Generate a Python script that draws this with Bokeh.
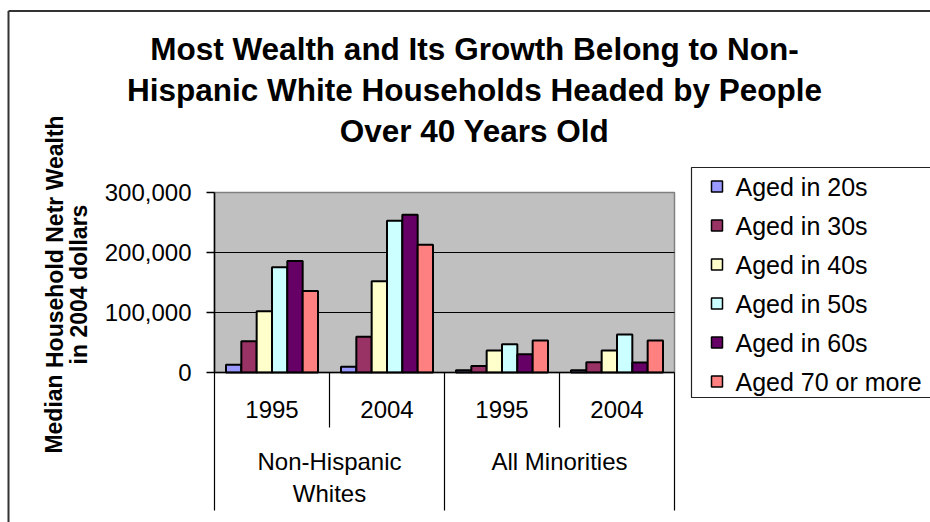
from bokeh.plotting import figure
from bokeh.models import Range1d
from bokeh.core.properties import value
from bokeh.embed import file_html
from bokeh.resources import INLINE

# ---------------- data ----------------
title_lines = ["Most Wealth and Its Growth Belong to Non-",
               "Hispanic White Households Headed by People",
               "Over 40 Years Old"]
y_title_lines = ["Median Household Netr Wealth", "in 2004 dollars"]
years = ["1995", "2004", "1995", "2004"]
groups = ["Non-Hispanic\nWhites", "All Minorities"]
series_names = ["Aged in 20s", "Aged in 30s", "Aged in 40s",
                "Aged in 50s", "Aged in 60s", "Aged 70 or more"]
aged_20s = [13000, 9500, 3800, 3800]
aged_30s = [52000, 59500, 11000, 17000]
aged_40s = [102000, 152000, 36500, 36500]
aged_50s = [175500, 253000, 47000, 63500]
aged_60s = [186000, 263000, 30500, 16500]
aged_70plus = [136000, 213000, 53500, 53500]
y_ticks = [0, 100000, 200000, 300000]

series_values = [aged_20s, aged_30s, aged_40s, aged_50s, aged_60s, aged_70plus]
colors = ["#9999FF", "#993366", "#FFFFCC", "#CCFFFF", "#660066", "#FF8080"]

# ---------------- layout (pixels) ----------------
W, H = 930, 522
PX_LEFT, PX_RIGHT = 214, 674      # plot area
PX_ZERO, PX_TOP = 372, 192
N = len(years)
UNIT = (PX_RIGHT - PX_LEFT) / N    # px per category
YMAX = y_ticks[-1]
K = YMAX / (PX_ZERO - PX_TOP)      # value per px

def xd(px):
    return (px - PX_LEFT) / UNIT

def yd(py):
    return (PX_ZERO - py) * K

FONT = value("Liberation Sans")

p = figure(width=W, height=H, output_backend="svg", toolbar_location=None,
           x_range=Range1d(xd(0), xd(W)), y_range=Range1d(yd(H), yd(0)),
           x_axis_location=None, y_axis_location=None, min_border=0,
           outline_line_color=None, background_fill_color="white",
           border_fill_color="white")
p.grid.visible = False

# outer chart border
p.segment(x0=[xd(8), xd(8)], y0=[yd(10.5), yd(10.5)], x1=[xd(8), xd(950)],
          y1=[yd(540), yd(10.5)], line_color="#333333", line_width=2)

# plot area
p.quad(left=[0], right=[N], bottom=[0], top=[YMAX], fill_color="#C0C0C0",
       line_color="#808080", line_width=1.5)
grid_y = y_ticks[1:-1]
p.segment(x0=[0] * len(grid_y), x1=[N] * len(grid_y), y0=grid_y, y1=grid_y,
          line_color="black", line_width=1.2)

# bars
gap = 1.5
bw = 1.0 / (len(series_values) + gap)
for k, (vals, col, name) in enumerate(zip(series_values, colors, series_names)):
    off = (k - (len(series_values) - 1) / 2) * bw
    xs = [i + 0.5 + off for i in range(N)]
    p.vbar(x=xs, top=vals, bottom=0, width=bw, fill_color=col,
           line_color="black", line_width=2)

# axes lines
p.segment(x0=[0], x1=[0], y0=[0], y1=[YMAX], line_color="black", line_width=1.5)
p.segment(x0=[0], x1=[N], y0=[0], y1=[0], line_color="black", line_width=1.5)
# y ticks
p.segment(x0=[xd(206)] * len(y_ticks), x1=[0] * len(y_ticks), y0=y_ticks, y1=y_ticks,
          line_color="black", line_width=1.5)
p.text(x=[xd(191)] * len(y_ticks), y=y_ticks, text=[f"{t:,}" for t in y_ticks],
       text_align="right", text_baseline="middle", text_font=FONT,
       text_font_size="24px", text_color="black")

# category separators
short_x = [i for i in range(1, N) if i % 2 == 1]
long_x = [i for i in range(0, N + 1, 2)]
p.segment(x0=short_x, x1=short_x, y0=[0] * len(short_x), y1=[yd(427)] * len(short_x),
          line_color="black", line_width=1.2)
p.segment(x0=long_x, x1=long_x, y0=[0] * len(long_x), y1=[yd(510)] * len(long_x),
          line_color="black", line_width=1.2)

# category labels
p.text(x=[i + 0.5 for i in range(N)], y=[yd(409)] * N, text=years,
       text_align="center", text_baseline="middle", text_font=FONT,
       text_font_size="24px", text_color="black")
gx, gy, gt = [], [], []
for g, name in enumerate(groups):
    for j, line in enumerate(name.split("\n")):
        gx.append(2 * g + 1)
        gy.append(yd(460.5 + 32 * j))
        gt.append(line)
p.text(x=gx, y=gy, text=gt, text_align="center", text_baseline="middle",
       text_font=FONT, text_font_size="24px", text_color="black")

# title
p.text(x=[xd(474)] * 3, y=[yd(48.5), yd(89.5), yd(130.5)], text=title_lines,
       text_align="center", text_baseline="middle", text_font=FONT,
       text_font_style="bold", text_font_size="31.5px", text_color="black")

# y-axis title
p.text(x=[xd(54), xd(78)], y=[yd(284), yd(284)], text=y_title_lines, angle=1.5707963,
       text_align="center", text_baseline="middle", text_font=FONT,
       text_font_style="bold", text_font_size="23px", text_color="black")

# legend
p.quad(left=[xd(691)], right=[xd(960)], top=[yd(167)], bottom=[yd(397)],
       fill_color="white", line_color="#222222", line_width=1.2)
rows = [186 + 39 * k for k in range(len(series_names))]
p.rect(x=[xd(716.5)] * len(rows), y=[yd(r) for r in rows], width=11, height=11,
       width_units="screen", height_units="screen", fill_color=colors,
       line_color="black", line_width=1.5)
p.text(x=[xd(735)] * len(rows), y=[yd(r) for r in rows], text=series_names,
       text_align="left", text_baseline="middle", text_font=FONT,
       text_font_size="25px", text_color="black")

open("out.html", "w").write(file_html(p, INLINE))
